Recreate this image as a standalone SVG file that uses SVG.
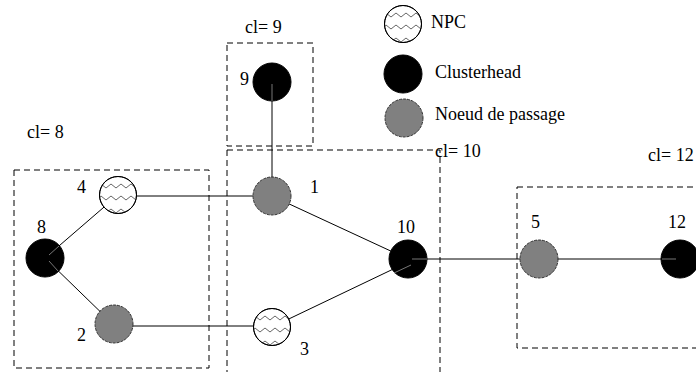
<svg xmlns="http://www.w3.org/2000/svg" width="696" height="372" viewBox="0 0 696 372">
  <style>
    text { font-family: "Liberation Serif", "Times New Roman", serif; font-size: 18px; fill: #000; }
    .cluster { fill: none; stroke: #000; stroke-width: 1; stroke-dasharray: 6 4; }
    .edge { stroke: #000; stroke-width: 1; fill: none; }
    .trace { stroke: #777; stroke-width: 1; fill: none; }
    .head { fill: #000; stroke: #000; stroke-width: 1; }
    .relay { fill: #808080; stroke: #222; stroke-width: 0.9; stroke-dasharray: 3 1; }
    .npc { fill: #fff; stroke: #000; stroke-width: 1; }
    .zig { fill: none; stroke: #666; stroke-width: 1; }
  </style>
  <defs>
    <clipPath id="npcClip">
      <circle cx="0" cy="0" r="18"/>
    </clipPath>
    <!-- wavy-pattern node (NPC) -->
    <g id="npcNode">
      <circle class="npc" cx="0" cy="0" r="18.5"/>
      <g clip-path="url(#npcClip)">
        <polyline class="zig" points="-22,-7 -17,-11 -12,-7 -7,-11 -2,-7 3,-11 8,-7 13,-11 18,-7 23,-11"/>
        <polyline class="zig" points="-22,5 -17,1 -12,5 -7,1 -2,5 3,1 8,5 13,1 18,5 23,1"/>
        <polyline class="zig" points="-22,18 -17,14 -12,18 -7,14 -2,18 3,14 8,18 13,14 18,18 23,14"/>
      </g>
      <circle cx="0" cy="0" r="18.5" fill="none" stroke="#000" stroke-width="1"/>
    </g>
  </defs>

  <rect width="696" height="372" fill="#fff"/>

  <!-- cluster boundaries -->
  <g id="clusters">
    <rect class="cluster" x="227" y="43" width="86" height="103"/>
    <rect class="cluster" x="14" y="170" width="195" height="198"/>
    <rect class="cluster" x="227" y="150" width="213" height="240"/>
    <rect class="cluster" x="517" y="187" width="200" height="161"/>
    <text x="245" y="33">cl= 9</text>
    <text x="27" y="138">cl= 8</text>
    <text x="435" y="157">cl= 10</text>
    <text x="648" y="161">cl= 12</text>
  </g>

  <!-- links -->
  <g id="connectors">
    <line class="edge" x1="272" y1="82" x2="272" y2="196"/>
    <line class="edge" x1="118" y1="196" x2="272" y2="196"/>
    <line class="edge" x1="45" y1="258" x2="118" y2="195"/>
    <line class="edge" x1="45" y1="258" x2="114" y2="325"/>
    <line class="edge" x1="114" y1="326" x2="272" y2="326"/>
    <line class="edge" x1="272" y1="196" x2="408" y2="259"/>
    <line class="edge" x1="272" y1="327" x2="408" y2="262"/>
    <line class="edge" x1="408" y1="259" x2="539" y2="259"/>
    <line class="edge" x1="539" y1="259" x2="680" y2="259"/>
  </g>

  <!-- nodes -->
  <g id="node-9">
    <circle class="head" cx="272" cy="82" r="19"/>
    <text x="240" y="85">9</text>
  </g>
  <g id="node-1">
    <circle class="relay" cx="272" cy="196" r="19"/>
    <text x="310" y="193">1</text>
  </g>
  <g id="node-10">
    <circle class="head" cx="408" cy="259" r="19"/>
    <text x="397" y="233">10</text>
  </g>
  <g id="node-3">
    <use href="#npcNode" x="272" y="327"/>
    <text x="300" y="355">3</text>
  </g>
  <g id="node-4">
    <use href="#npcNode" x="118" y="195"/>
    <text x="77" y="193">4</text>
  </g>
  <g id="node-8">
    <circle class="head" cx="45" cy="258" r="19"/>
    <text x="37" y="233">8</text>
  </g>
  <g id="node-2">
    <circle class="relay" cx="114" cy="324" r="19"/>
    <text x="77" y="341">2</text>
  </g>
  <g id="node-5">
    <circle class="relay" cx="539" cy="259" r="19"/>
    <text x="531" y="228">5</text>
  </g>
  <g id="node-12">
    <circle class="head" cx="680" cy="259" r="19"/>
    <text x="668" y="228">12</text>
  </g>

  <!-- link strokes visible over the dark clusterheads -->
  <g id="connector-traces">
    <line class="trace" x1="272" y1="84" x2="272" y2="101"/>
    <line class="trace" x1="49" y1="255" x2="59" y2="246"/>
    <line class="trace" x1="49" y1="261" x2="58" y2="271"/>
    <line class="trace" x1="412" y1="259" x2="427" y2="259"/>
    <line class="trace" x1="411" y1="265" x2="394" y2="273"/>
    <line class="trace" x1="662" y1="259" x2="676" y2="259"/>
  </g>

  <!-- key -->
  <g id="legend">
    <use href="#npcNode" x="403" y="24"/>
    <text x="431" y="28">NPC</text>
    <circle class="head" cx="403" cy="74" r="19"/>
    <text x="435" y="78">Clusterhead</text>
    <circle class="relay" cx="404" cy="118" r="19"/>
    <text x="435" y="120">Noeud de passage</text>
  </g>
</svg>
